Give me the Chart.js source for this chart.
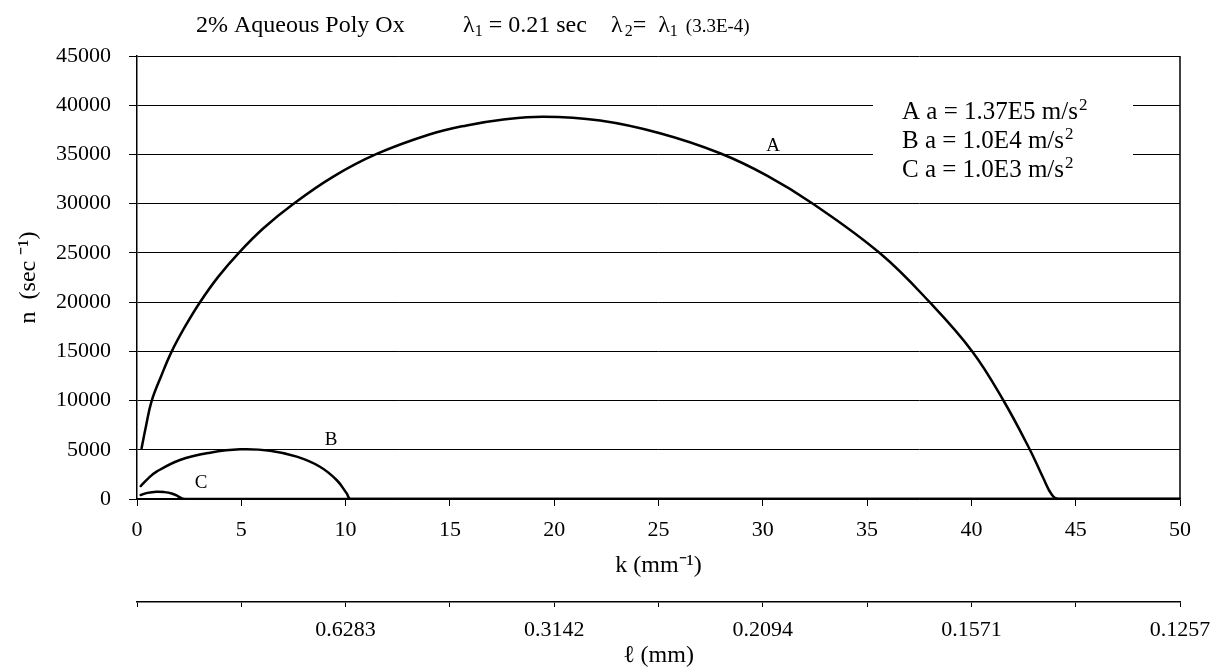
<!DOCTYPE html>
<html><head><meta charset="utf-8">
<script src="https://cdn.jsdelivr.net/npm/chart.js@4.4.1/dist/chart.umd.min.js"></script>
<style>html,body{margin:0;padding:0;background:#fff}canvas{display:block}</style>
</head><body>
<canvas id="c" width="1222" height="670"></canvas>
<script>
// ---- data ----
const kA = [0.22, 0.42, 0.70, 1.18, 1.66, 2.30, 3.02, 3.90, 4.86, 6.06, 7.49, 9.41, 11.49, 14.05, 15.8, 17.4, 19.48, 22.2, 25.07, 27.95, 30.2, 32.42, 35.62, 38.0, 40.05, 41.55, 42.81, 43.45, 43.85, 44.15, 50];
const nA = [5150, 7300, 9950, 12600, 14970, 17500, 19990, 22590, 24960, 27500, 29970, 32750, 35050, 37050, 37950, 38500, 38840, 38440, 37150, 35120, 32850, 29970, 24960, 19990, 14970, 9955, 4980, 2100, 450, 0, 0];
const kB = [0.18, 0.54, 0.94, 2.06, 3.50, 4.94, 6.38, 7.66, 8.77, 9.57, 10.05, 10.25, 50];
const nB = [1320, 2100, 2775, 3960, 4700, 5050, 4910, 4300, 3280, 1930, 580, 0, 0];
const kC = [0.18, 0.5, 0.94, 1.3, 1.66, 1.95, 2.15, 2.3, 50];
const nC = [400, 620, 740, 700, 560, 300, 60, 0, 0];
const curveNames = ['A', 'B', 'C'];
const curveLabelK = [30.49, 9.30, 3.07];
const curveLabelN = [35360, 5490, 1120];
const legendLines = ['A a = 1.37E5 m/s', 'B a = 1.0E4 m/s', 'C a = 1.0E3 m/s'];
const lengthTickLabels = ['', '', '0.6283', '', '0.3142', '', '0.2094', '', '0.1571', '', '0.1257'];
const titleMain = '2% Aqueous Poly Ox';

const FONT = '"Liberation Serif", "Times New Roman", serif';
const toPts = (ks, ns) => ks.map((k, i) => ({x: k, y: ns[i]}));

const deco = {
  id: 'deco',
  beforeDatasetsDraw(chart) {
    const ctx = chart.ctx;
    ctx.save();
    ctx.fillStyle = '#fff';
    ctx.fillRect(873, 92, 260, 102);
    ctx.restore();
  },
  afterDraw(chart) {
    const ctx = chart.ctx, a = chart.chartArea;
    ctx.save();
    // right frame
    ctx.strokeStyle = '#000'; ctx.lineWidth = 1.5;
    ctx.beginPath(); ctx.moveTo(a.right, a.top); ctx.lineTo(a.right, a.bottom); ctx.stroke();
    ctx.fillStyle = '#000';
    ctx.textBaseline = 'alphabetic';
    // title
    ctx.textAlign = 'left';
    ctx.font = '24px ' + FONT;
    ctx.fillText(titleMain, 196, 32);
    let x = 463;
    ctx.fillText('\u03bb', x, 32); x += ctx.measureText('\u03bb').width;
    ctx.font = '16px ' + FONT; ctx.fillText('1', x, 36); x += ctx.measureText('1').width;
    ctx.font = '24px ' + FONT; ctx.fillText(' = 0.21 sec', x, 32);
    x = 611;
    ctx.fillText('\u03bb', x, 32); x += ctx.measureText('\u03bb').width + 2;
    ctx.font = '16px ' + FONT; ctx.fillText('2', x, 36); x += ctx.measureText('2').width;
    ctx.font = '24px ' + FONT; ctx.fillText('=  \u03bb', x, 32); x += ctx.measureText('=  \u03bb').width;
    ctx.font = '16px ' + FONT; ctx.fillText('1', x, 36); x += ctx.measureText('1').width + 8;
    ctx.font = '19px ' + FONT; ctx.fillText('(3.3E-4)', x, 32);
    // legend text
    const base = [119, 148, 177];
    legendLines.forEach((t, i) => {
      ctx.font = '25px ' + FONT;
      ctx.fillText(t, 902, base[i]);
      const w = ctx.measureText(t).width;
      ctx.font = '17px ' + FONT;
      ctx.fillText('2', 902 + w + 1, base[i] - 9);
    });
    // curve labels
    const xs = chart.scales.x, ys = chart.scales.y;
    ctx.font = '19px ' + FONT; ctx.textAlign = 'center';
    curveNames.forEach((n, i) => {
      ctx.fillText(n, xs.getPixelForValue(curveLabelK[i]), ys.getPixelForValue(curveLabelN[i]));
    });
    ctx.restore();
  }
};

const lineDs = (pts) => ({
  data: pts, borderColor: '#000', borderWidth: 2.5, pointRadius: 0,
  fill: false, tension: 0.4, showLine: true, borderJoinStyle: 'round', borderCapStyle: 'round'
});

new Chart(document.getElementById('c'), {
  type: 'scatter',
  data: { datasets: [lineDs(toPts(kA, nA)), lineDs(toPts(kB, nB)), lineDs(toPts(kC, nC))] },
  options: {
    responsive: false, animation: false,
    layout: { padding: { top: 56, right: 42, left: 0, bottom: 0 } },
    plugins: { legend: { display: false }, tooltip: { enabled: false }, title: { display: false } },
    scales: {
      y: {
        type: 'linear', min: 0, max: 45000,
        afterFit: s => { s.width = 137; },
        ticks: { stepSize: 5000, color: '#000', font: { family: FONT, size: 22 }, padding: 18, callback: v => String(v) },
        grid: { color: '#000', lineWidth: 1, tickLength: 8, drawTicks: true },
        border: { display: true, color: '#000', width: 1.5 },
        title: { display: true, text: 'n  (sec \u207b\u00b9)', color: '#000', font: { family: FONT, size: 24 }, padding: { top: 14, bottom: 0 } }
      },
      x: {
        type: 'linear', position: 'bottom', min: 0, max: 50,
        afterFit: s => { s.height = 103; },
        ticks: { stepSize: 5, color: '#000', font: { family: FONT, size: 22 }, padding: 11, maxRotation: 0, autoSkip: false },
        grid: { drawOnChartArea: false, drawTicks: true, tickLength: 7, color: '#000' },
        border: { display: true, color: '#000', width: 1.5 },
        title: { display: true, text: 'k (mm\u207b\u00b9)', color: '#000', font: { family: FONT, size: 24 }, padding: { top: 0, bottom: 22 } }
      },
      x2: {
        type: 'linear', position: 'bottom', min: 0, max: 50,
        afterFit: s => { s.height = 68; },
        ticks: { stepSize: 5, color: '#000', font: { family: FONT, size: 22 }, padding: 10, maxRotation: 0, autoSkip: false,
                 callback: (v, i) => lengthTickLabels[i] },
        grid: { drawOnChartArea: false, drawTicks: true, tickLength: 5, color: '#000' },
        border: { display: true, color: '#000', width: 1.5 },
        title: { display: true, text: '\u2113 (mm)', color: '#000', font: { family: FONT, size: 24 }, padding: { top: 0, bottom: 0 } }
      }
    }
  },
  plugins: [deco]
});
</script>
</body></html>
